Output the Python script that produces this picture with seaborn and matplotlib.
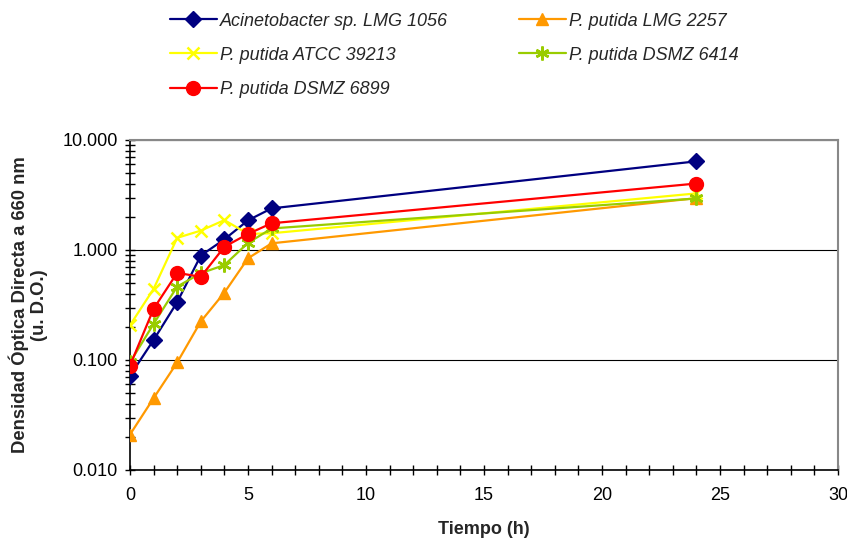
import matplotlib
matplotlib.use("Agg")
import matplotlib.pyplot as plt
import matplotlib.ticker as mticker
import seaborn as sns
import pandas as pd

tiempo = [0, 1, 2, 3, 4, 5, 6, 24]

acinetobacter_1056 = [0.072, 0.152, 0.336, 0.89, 1.25, 1.86, 2.39, 6.4]
putida_2257 = [0.021, 0.045, 0.095, 0.224, 0.41, 0.84, 1.15, 2.96]
putida_39213 = [0.207, 0.443, 1.29, 1.50, 1.87, 1.40, 1.42, 3.27]
putida_6414 = [0.095, 0.213, 0.465, 0.615, 0.73, 1.16, 1.57, 2.94]
putida_6899 = [0.089, 0.292, 0.62, 0.57, 1.07, 1.40, 1.75, 4.02]

cepas = ["Acinetobacter sp. LMG 1056", "P. putida LMG 2257", "P. putida ATCC 39213",
         "P. putida DSMZ 6414", "P. putida DSMZ 6899"]
series = [acinetobacter_1056, putida_2257, putida_39213, putida_6414, putida_6899]

colores = ["#000080", "#FF9900", "#FFFF00", "#99CC00", "#FF0000"]
marcadores = ["D", "^", "x", (6, 2, 0), "o"]
tamanos = [8, 9, 9, 10, 10]

rows = []
for cepa, vals in zip(cepas, series):
    for t, v in zip(tiempo, vals):
        rows.append({"Tiempo": t, "DO": v, "Cepa": cepa})
df = pd.DataFrame(rows)

sns.set_style("white")
plt.rcParams['font.family'] = ['Liberation Sans', 'DejaVu Sans']

fig = plt.figure(figsize=(8.47, 5.39), dpi=100)
ax = fig.add_axes([130 / 847, 69 / 539, 708 / 847, 330 / 539])

for i, cepa in enumerate(cepas):
    sub = df[df["Cepa"] == cepa]
    sns.lineplot(data=sub, x="Tiempo", y="DO", ax=ax, color=colores[i],
                 marker=marcadores[i], markersize=tamanos[i],
                 markeredgecolor=colores[i], markeredgewidth=1.8 if i in (2, 3) else 1,
                 linewidth=1.6, label=cepa, zorder=3 + i)

ax.set_yscale("log")
ax.set_ylim(0.01, 10)
ax.set_xlim(0, 30)
ax.xaxis.set_major_locator(mticker.MultipleLocator(5))
ax.xaxis.set_minor_locator(mticker.MultipleLocator(1))
ax.yaxis.set_major_formatter(mticker.FormatStrFormatter('%.3f'))
ax.yaxis.set_minor_locator(mticker.LogLocator(base=10, subs=range(2, 10)))
ax.yaxis.set_minor_formatter(mticker.NullFormatter())

ax.tick_params(axis="both", which="both", direction="inout", colors="black",
               labelsize=13, left=True, bottom=True)
ax.tick_params(which="both", length=7, width=1)
ax.tick_params(axis="y", which="major", pad=5.5)
ax.tick_params(axis="x", which="major", pad=9)

ax.grid(True, which="major", axis="y", color="black", linewidth=0.8)
ax.grid(False, axis="x")
for s in ["left", "bottom"]:
    ax.spines[s].set_color("black")
    ax.spines[s].set_linewidth(1.2)
for s in ["top", "right"]:
    ax.spines[s].set_color("#888888")
    ax.spines[s].set_linewidth(1.5)

ax.set_xlabel("Tiempo (h)", fontsize=13, fontweight="bold", labelpad=12)
ax.set_ylabel("Densidad Óptica Directa a 660 nm\n(u. D.O.)", fontsize=13.3,
              fontweight="bold", labelpad=10, linespacing=1.15)

h, l = ax.get_legend_handles_labels()
ax.get_legend().remove()
orden = [0, 2, 4, 1, 3]
fig.legend([h[k] for k in orden], [l[k] for k in orden], ncol=2, frameon=False,
           loc="upper left", bbox_to_anchor=(157 / 847, 1.0), prop={"style": "italic", "size": 13},
           handlelength=2.6, handletextpad=0.2, columnspacing=3.9, labelspacing=0.95,
           borderaxespad=0.3)

fig.savefig("out.png", dpi=100)
